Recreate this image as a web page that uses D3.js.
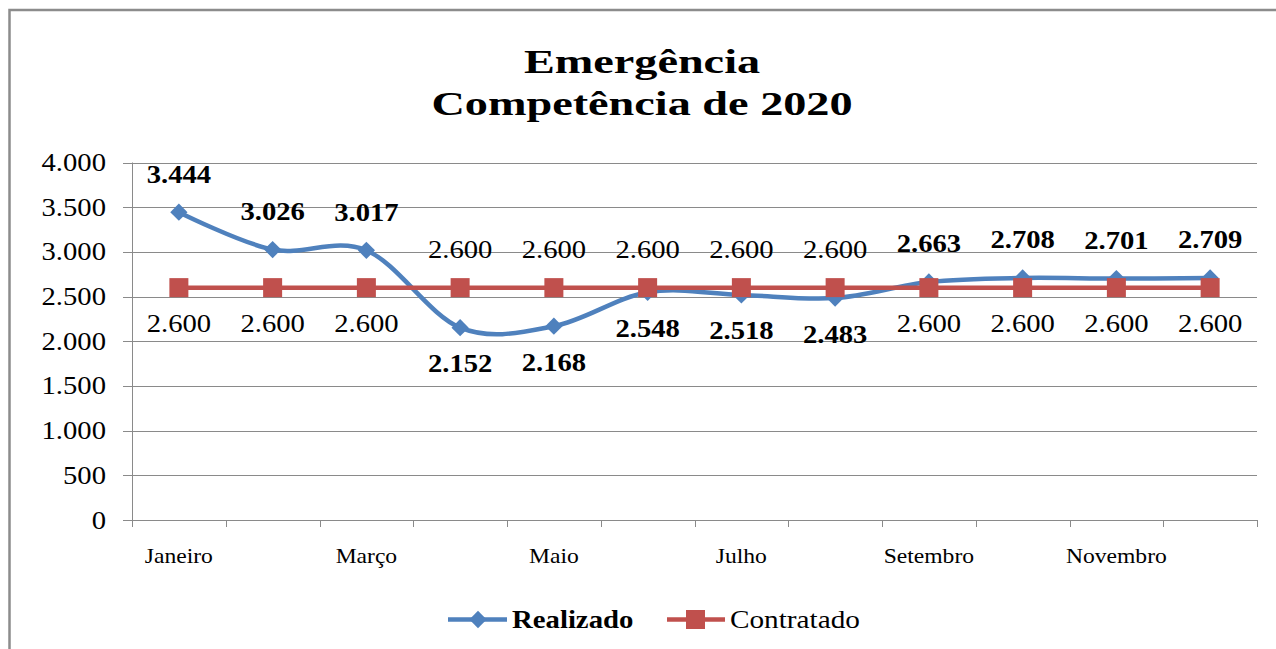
<!DOCTYPE html>
<html>
<head>
<meta charset="utf-8">
<script src="https://cdn.jsdelivr.net/npm/d3@7"></script>
<style>
  body { margin: 0; background: #fff; overflow: hidden; }
  text { font-family: "Liberation Serif", "Times New Roman", serif; fill: #000; }
</style>
</head>
<body>
<div id="root"></div>
<script>
const months = ["Janeiro", "Fevereiro", "Março", "Abril", "Maio", "Junho",
  "Julho", "Agosto", "Setembro", "Outubro", "Novembro", "Dezembro"];
const realizado = [3444, 3026, 3017, 2152, 2168, 2548, 2518, 2483, 2663, 2708, 2701, 2709];
const contratado = [2600, 2600, 2600, 2600, 2600, 2600, 2600, 2600, 2600, 2600, 2600, 2600];
const yTicks = [0, 500, 1000, 1500, 2000, 2500, 3000, 3500, 4000];
const titleLines = ["Emergência", "Competência de 2020"];

class LineChart {
  constructor() {
    this.width = 1276;
    this.height = 649;
    this.plot = { left: 132, right: 1257, top: 162.5, bottom: 520 };
    this.blue = "#4f81bd";
    this.red = "#c0504d";
    this.grid = "#8a8a8a";
    this.sx = 1.17; // the source text is drawn wide
    const locale = d3.formatLocale({ decimal: ",", thousands: ".", grouping: [3], currency: ["", ""] });
    this.fmt = locale.format(",d");
  }

  initialize() {
    this.x = d3.scaleBand()
      .domain(months)
      .range([this.plot.left, this.plot.right]);
    this.y = d3.scaleLinear()
      .domain([0, 4000])
      .range([this.plot.bottom, this.plot.top]);
    this.cx = m => this.x(m) + this.x.bandwidth() / 2;
  }

  label(g, x, y, str, size, opts = {}) {
    return g.append("text")
      .attr("transform", `translate(${x},${y}) scale(${opts.sx || this.sx},1)`)
      .attr("text-anchor", opts.anchor || "middle")
      .attr("font-size", size)
      .attr("font-weight", opts.bold ? "bold" : "normal")
      .text(str);
  }

  setSvg() {
    this.svg = d3.select("#root")
      .append("svg")
      .attr("width", this.width)
      .attr("height", this.height);
    // chart frame, cut off at right and bottom in the source
    this.svg.append("rect")
      .attr("x", 9.5).attr("y", 10)
      .attr("width", 1300).attr("height", 700)
      .attr("fill", "none")
      .attr("stroke", "#8c8c8c")
      .attr("stroke-width", 2.5);
  }

  drawTitle() {
    titleLines.forEach((t, i) => {
      this.label(this.svg, 642, 73 + i * 42, t, 34, { bold: true, sx: 1.36 });
    });
  }

  drawGrid() {
    const g = this.svg.append("g");
    g.selectAll("line.grid")
      .data(yTicks)
      .enter()
      .append("line")
      .attr("x1", this.plot.left - 9)
      .attr("x2", this.plot.right)
      .attr("y1", d => Math.round(this.y(d)) + 0.5)
      .attr("y2", d => Math.round(this.y(d)) + 0.5)
      .attr("stroke", this.grid);
    yTicks.forEach(d => {
      this.label(g, 106, this.y(d) + 8.5, this.fmt(d), 24.5, { anchor: "end" });
    });
  }

  drawAxes() {
    const g = this.svg.append("g");
    g.append("line")
      .attr("x1", this.plot.left + 0.5).attr("x2", this.plot.left + 0.5)
      .attr("y1", this.plot.top).attr("y2", this.plot.bottom)
      .attr("stroke", this.grid);
    const bounds = months.map(m => this.x(m)).concat([this.plot.right]);
    g.selectAll("line.tick")
      .data(bounds)
      .enter()
      .append("line")
      .attr("x1", d => Math.round(d) + 0.5)
      .attr("x2", d => Math.round(d) + 0.5)
      .attr("y1", this.plot.bottom)
      .attr("y2", this.plot.bottom + 7)
      .attr("stroke", this.grid);
    months.forEach((m, i) => {
      if (i % 2 === 0) this.label(g, this.cx(m), 563, m, 20.5, { sx: 1.15 });
    });
  }

  drawSeries() {
    const line = d3.line()
      .x((d, i) => this.cx(months[i]))
      .y(d => this.y(d))
      .curve(d3.curveCatmullRom.alpha(0));

    const gb = this.svg.append("g");
    gb.append("path")
      .datum(realizado)
      .attr("d", line)
      .attr("fill", "none")
      .attr("stroke", this.blue)
      .attr("stroke-width", 4.5);
    gb.selectAll("path.pt")
      .data(realizado)
      .enter()
      .append("path")
      .attr("d", d3.symbol(d3.symbolDiamond2, 190))
      .attr("transform", (d, i) => `translate(${this.cx(months[i])},${this.y(d)})`)
      .attr("fill", this.blue);

    const gr = this.svg.append("g");
    gr.append("path")
      .datum(contratado)
      .attr("d", d3.line().x((d, i) => this.cx(months[i])).y(d => this.y(d)))
      .attr("fill", "none")
      .attr("stroke", this.red)
      .attr("stroke-width", 4.5);
    gr.selectAll("rect")
      .data(contratado)
      .enter()
      .append("rect")
      .attr("x", (d, i) => this.cx(months[i]) - 9.5)
      .attr("y", d => this.y(d) - 9.5)
      .attr("width", 19)
      .attr("height", 19)
      .attr("fill", this.red);
  }

  drawLabels() {
    const g = this.svg.append("g");
    realizado.forEach((v, i) => {
      const above = v >= contratado[i];
      const y = this.y(v) + (above ? -29.5 : 44.5);
      this.label(g, this.cx(months[i]), y, this.fmt(v), 24.5, { bold: true });
    });
    contratado.forEach((v, i) => {
      const above = v > realizado[i];
      const y = this.y(v) + (above ? -29.5 : 44.5);
      this.label(g, this.cx(months[i]), y, this.fmt(v), 24.5);
    });
  }

  drawLegend() {
    const g = this.svg.append("g");
    const ly = 619.5;
    g.append("line")
      .attr("x1", 448).attr("x2", 507).attr("y1", ly).attr("y2", ly)
      .attr("stroke", this.blue).attr("stroke-width", 4.5);
    g.append("path")
      .attr("d", d3.symbol(d3.symbolDiamond2, 190))
      .attr("transform", `translate(478,${ly})`)
      .attr("fill", this.blue);
    this.label(g, 512, 628, "Realizado", 25, { bold: true, anchor: "start", sx: 1.15 });

    g.append("line")
      .attr("x1", 667).attr("x2", 725).attr("y1", ly).attr("y2", ly)
      .attr("stroke", this.red).attr("stroke-width", 4.5);
    g.append("rect")
      .attr("x", 686).attr("y", ly - 9.5)
      .attr("width", 19).attr("height", 19)
      .attr("fill", this.red);
    this.label(g, 730, 628, "Contratado", 25, { anchor: "start", sx: 1.17 });
  }

  draw() {
    this.initialize();
    this.setSvg();
    this.drawTitle();
    this.drawGrid();
    this.drawAxes();
    this.drawSeries();
    this.drawLabels();
    this.drawLegend();
  }
}

const chart = new LineChart();
chart.draw();
</script>
</body>
</html>
